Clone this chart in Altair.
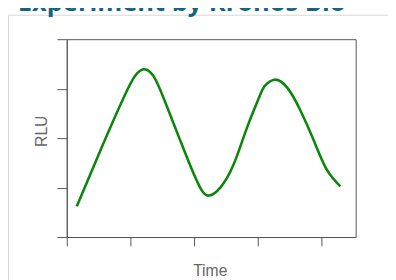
import altair as alt
import pandas as pd

# Data (unitless time / RLU), pixel readings converted to axis units
time_vals = [0.158, 0.543, 0.954, 1.108, 1.200, 1.365, 1.569, 1.762, 1.954, 2.108,
             2.235, 2.415, 2.620, 2.826, 3.031, 3.108, 3.262, 3.466, 3.672, 3.877,
             4.082, 4.297]
rlu_vals = [0.620, 1.796, 2.984, 3.313, 3.392, 3.248, 2.653, 2.020, 1.399, 0.970,
            0.838, 1.004, 1.465, 2.192, 2.851, 3.050, 3.182, 3.016, 2.554, 1.960,
            1.366, 1.024]
x_ticks = [0, 1, 2, 3, 4]
y_ticks = [0, 1, 2, 3, 4]
title_text = "Experiment by Kronos Bio"
x_title = "Time"
y_title = "RLU"

df = pd.DataFrame({"Time": time_vals, "RLU": rlu_vals})
one = pd.DataFrame({"a": [0]})

frame = alt.Chart(one).mark_rect(fill="transparent", stroke="#d6d6d6", strokeWidth=1).encode(
    x=alt.value(-59.5), x2=alt.value(420), y=alt.value(-24.5), y2=alt.value(320)
)

line = alt.Chart(df).mark_line(color="#0a870a", strokeWidth=2.6, interpolate="natural").encode(
    x=alt.X("Time:Q", scale=alt.Scale(domain=[0, 4.538], nice=False, zero=False),
            axis=alt.Axis(values=x_ticks, labels=False, title=None, grid=False,
                          tickSize=9, tickColor="#555555", domainColor="#555555")),
    y=alt.Y("RLU:Q", scale=alt.Scale(domain=[0, 4], nice=False, zero=False),
            axis=alt.Axis(values=y_ticks, labels=False, title=None, grid=False,
                          tickSize=10, tickColor="#555555", domainColor="#555555")),
)

title = alt.Chart(one).mark_text(
    text=title_text, font="Open Sans", fontWeight="bold", fontSize=26,
    color="#13657f", align="left", baseline="alphabetic"
).encode(x=alt.value(-50), y=alt.value(-29))

xt = alt.Chart(one).mark_text(
    text=x_title, font="Liberation Sans", fontSize=16, color="#666666",
    align="center", baseline="alphabetic"
).encode(x=alt.value(146.5), y=alt.value(242))

yt = alt.Chart(one).mark_text(
    text=y_title, font="Liberation Sans", fontSize=16, color="#666666",
    align="center", baseline="middle", angle=270
).encode(x=alt.value(-24.7), y=alt.value(94))

chart = alt.layer(frame, line, title, xt, yt).properties(
    width=295, height=202,
    padding={"left": 60, "top": 29, "right": 33, "bottom": 41},
    autosize=alt.AutoSizeParams(type="none"),
    background="white",
).configure_view(stroke="#555555", strokeWidth=1)

chart.save("out.html", embed_options={"renderer": "svg", "actions": False})
